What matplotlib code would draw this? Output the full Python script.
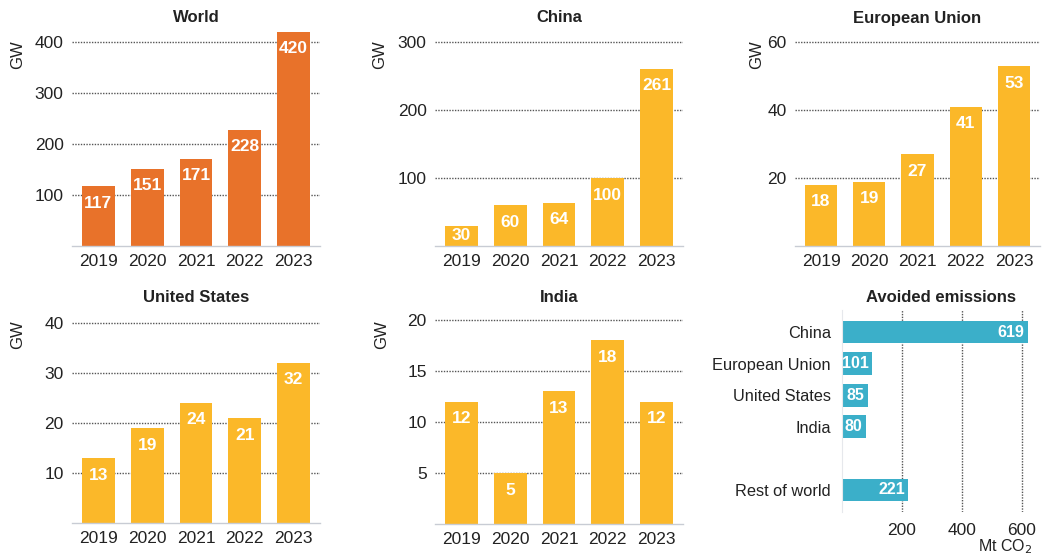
import matplotlib
matplotlib.use("Agg")
import matplotlib.pyplot as plt

plt.rcParams["font.family"] = ["Liberation Sans", "DejaVu Sans"]

# Annual capacity additions (GW)
years = ["2019", "2020", "2021", "2022", "2023"]
world = [117, 151, 171, 228, 420]
china = [30, 60, 64, 100, 261]
eu = [18, 19, 27, 41, 53]
us = [13, 19, 24, 21, 32]
india = [12, 5, 13, 18, 12]

world_ticks = [100, 200, 300, 400]
china_ticks = [100, 200, 300]
eu_ticks = [20, 40, 60]
us_ticks = [10, 20, 30, 40]
india_ticks = [5, 10, 15, 20]

# Avoided emissions (Mt CO2)
regions = ["China", "European Union", "United States", "India", "Rest of world"]
region_pos = [0, 1, 2, 3, 5]
avoided = [619, 101, 85, 80, 221]
avoided_ticks = [200, 400, 600]

ORANGE = "#E8722A"
YELLOW = "#FBB829"
TEAL = "#3BAFC9"
GRID = "#555555"
TEXT = "#222222"

W, H = 1048, 556
fig = plt.figure(figsize=(W / 100, H / 100), dpi=100)
fig.patch.set_facecolor("white")


def px_axes(left, top, right, bottom):
    return fig.add_axes([left / W, 1 - bottom / H, (right - left) / W, (bottom - top) / H])


def column_panel(box, values, ticks, ymax, color, title, title_y, gw_xy):
    ax = px_axes(*box)
    x = range(len(values))
    ax.set_axisbelow(True)
    ax.yaxis.grid(True, linestyle=(0, (1, 1)), color=GRID, linewidth=1.0)
    ax.bar(x, values, width=0.67, color=color, zorder=2)
    # value labels sit a little below the bar top, or mid-bar when the bar is short
    px_per_unit = (box[3] - box[1]) / ymax
    drop = 17 / px_per_unit
    for xi, v in zip(x, values):
        ax.text(xi, max(v - drop, v / 2), str(v), ha="center", va="center",
                color="white", fontsize=12.5, fontweight="bold", zorder=3)
    ax.set_xlim(-0.54, len(values) - 0.46)
    ax.set_ylim(0, ymax)
    ax.set_xticks(list(x))
    ax.set_xticklabels(years)
    ax.set_yticks(ticks)
    ax.tick_params(axis="both", length=0, labelsize=12.5, labelcolor=TEXT)
    ax.tick_params(axis="x", pad=6)
    ax.tick_params(axis="y", pad=6)
    for s in ["top", "right", "left"]:
        ax.spines[s].set_visible(False)
    ax.spines["bottom"].set_color("#C8CCD4")
    ax.spines["bottom"].set_linewidth(1.0)
    ax.set_facecolor("none")
    cx = (box[0] + box[2]) / 2
    fig.text(cx / W, 1 - title_y / H, title, ha="center", va="center",
             fontsize=12, fontweight="bold", color=TEXT)
    fig.text(gw_xy[0] / W, 1 - gw_xy[1] / H, "GW", ha="center", va="center",
             rotation=90, fontsize=12, color=TEXT)
    return ax


column_panel((72, 29, 320, 246), world, world_ticks, 425, ORANGE, "World", 18, (18, 55))
column_panel((435, 39, 683, 246), china, china_ticks, 305, YELLOW, "China", 18, (380, 55))
column_panel((795, 39, 1040, 246), eu, eu_ticks, 61, YELLOW, "European Union", 18, (757, 55))
column_panel((72, 318, 320, 523), us, us_ticks, 41, YELLOW, "United States", 298, (18, 335))
column_panel((435, 315, 683, 524), india, india_ticks, 20.5, YELLOW, "India", 298, (382, 335))

# Avoided emissions horizontal bars
ax = px_axes(842, 310, 1040, 512)
ax.set_axisbelow(True)
ax.xaxis.grid(True, linestyle=(0, (1, 1)), color=GRID, linewidth=1.0)
ax.barh(region_pos, avoided, height=0.72, color=TEAL, zorder=2)
for p, v in zip(region_pos, avoided):
    ax.annotate(str(v), (v, p), xytext=(-2.5, 0), textcoords="offset points",
                ha="right", va="center", color="white", fontsize=11.5,
                fontweight="bold", zorder=3)
ax.set_xlim(0, 660)
ax.set_ylim(5.7, -0.7)
ax.set_yticks(region_pos)
ax.set_yticklabels(regions)
ax.set_xticks(avoided_ticks)
ax.tick_params(axis="both", length=0, labelcolor=TEXT)
ax.tick_params(axis="y", pad=8, labelsize=11.8)
ax.tick_params(axis="x", pad=8, labelsize=12.5)
for s in ["top", "right", "bottom"]:
    ax.spines[s].set_visible(False)
ax.spines["left"].set_color("#E6E8EC")
ax.set_facecolor("none")
fig.text(941 / W, 1 - 298 / H, "Avoided emissions", ha="center", va="center",
         fontsize=12, fontweight="bold", color=TEXT)
fig.text(1005 / W, 1 - 547 / H, "Mt CO$_2$", ha="center", va="center",
         fontsize=11.5, color=TEXT)

fig.savefig("out.png", dpi=100)
